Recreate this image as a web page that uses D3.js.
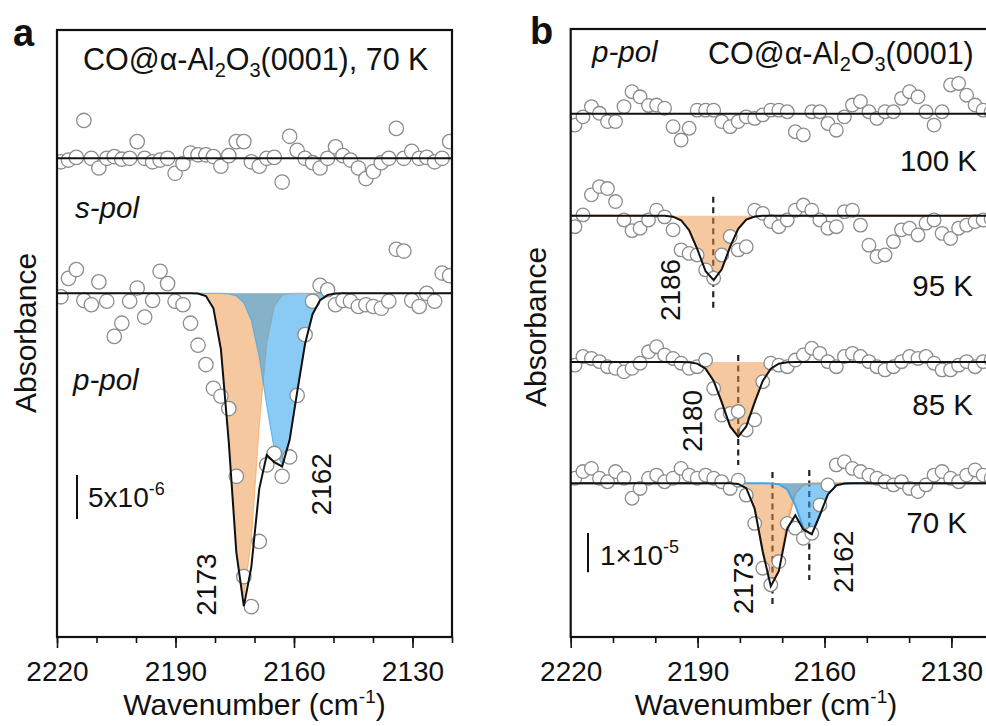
<!DOCTYPE html>
<html>
<head>
<meta charset="utf-8">
<script src="https://cdn.jsdelivr.net/npm/d3@7"></script>
<style>
body { margin: 0; background: #fff; }
svg { display: block; font-family: 'Liberation Sans', Arial, Helvetica, sans-serif; }
</style>
</head>
<body>
<svg id="fig" width="986" height="726"></svg>
<script>
// wavenumber grid of the measured points (cm-1)
var wavenumbers = [2219.0, 2217.1, 2215.1, 2213.2, 2211.3, 2209.4, 2207.4, 2205.5, 2203.6, 2201.6,
	2199.7, 2197.8, 2195.8, 2193.9, 2192.0, 2190.1, 2188.1, 2186.2, 2184.3, 2182.3,
	2180.4, 2178.5, 2176.5, 2174.6, 2172.7, 2170.8, 2168.8, 2166.9, 2165.0, 2163.0,
	2161.1, 2159.2, 2157.2, 2155.3, 2153.4, 2151.5, 2149.5, 2147.6, 2145.7, 2143.7,
	2141.8, 2139.9, 2137.9, 2136.0, 2134.1, 2132.2, 2130.2, 2128.3, 2126.4, 2124.4,
	2122.5, 2120.6];

// panel a, 70 K, absorbance in units of 1e-6
var sPol70 = [-0.4, -0.2, 0.1, 4.3, 0.0, -1.1, 0.0, 0.2, -0.1, 0.0,
	1.9, 0.0, -0.4, -0.2, 0.0, -1.7, -0.6, 0.6, 0.4, 0.4,
	0.2, -0.9, 0.3, 1.9, 1.9, -0.4, -0.9, 0.0, 0.1, -2.7,
	2.5, 0.9, 0.0, -0.5, -1.1, 0.0, 1.3, 0.3, -0.2, -1.1,
	-2.3, -1.5, -0.5, 0.0, 3.4, 0.0, 0.8, 0.0, 0.1, -0.4,
	0.0, 1.9];
var pPol70 = [-0.4, 1.7, 2.7, -0.8, -1.3, 1.3, -0.9, -4.9, -3.4, -0.9,
	0.6, -2.7, -0.8, 2.5, 1.1, -0.9, -1.3, -3.4, -5.9, -8.1,
	-10.8, -11.7, -13.1, -20.8, -32.2, -35.6, -28.2, -19.5, -18.2, -20.8,
	-18.6, -11.6, -4.7, -0.9, 0.9, 0.4, -1.3, -0.8, -0.9, -1.5,
	-1.3, -1.5, -1.7, -0.9, 5.0, 4.8, -0.8, -1.5, 0.0, -0.9,
	2.3, 2.0];

// panel b, p-pol, absorbance in units of 1e-6
var temps = ["100 K", "95 K", "85 K", "70 K"];
var pPolT = [
	[-2.9, -0.8, 1.8, 0.1, -2.0, -2.0, 1.8, 5.6, 4.3, 2.1,
	 2.2, 1.4, -3.3, -6.7, -3.7, 0.9, 0.9, 0.9, -2.0, -3.3,
	 -2.0, -0.8, -1.2, -0.3, 0.9, 0.9, 0.5, -4.6, -5.4, 0.5,
	 0.5, -2.5, -4.2, -0.8, 2.2, 3.1, 0.5, -1.2, 0.5, 0.5,
	 3.9, 5.6, 4.3, 0.5, -2.9, 0.5, 7.3, 7.7, 4.7, 2.2,
	 0.9, 0.5],
	[-2.8, 0.2, 5.3, 7.4, 6.9, 3.6, -1.1, -3.8, -3.2, -1.1,
	 1.4, -0.3, -3.6, -8.7, -9.6, -10.0, -13.8, -15.9, -10.0, -5.3,
	 -8.7, -7.9, 1.4, 0.6, -1.5, -2.8, -1.1, 1.4, 2.7, 1.4,
	 -1.1, -3.2, -2.8, 1.0, 1.4, -2.4, -7.5, -10.4, -10.0, -6.6,
	 -3.6, -3.2, -4.9, -1.9, -1.1, -4.5, -5.8, -3.2, -2.4, -1.5,
	 -1.1, -0.8],
	[-0.8, 1.4, 0.9, 0.1, -1.2, -1.6, -2.5, -1.6, -0.3, 2.6,
	 3.9, 1.8, 0.9, -0.3, -1.6, -1.2, 0.5, -6.7, -13.5, -13.1,
	 -12.6, -17.3, -14.7, -5.0, -0.3, -0.8, -1.2, 0.5, 1.8, 3.5,
	 2.2, 0.1, -1.2, 1.4, 2.2, 1.4, 0.1, -1.2, -2.0, -1.2,
	 0.1, 1.4, 0.9, 1.4, -0.3, -2.0, -2.0, -0.8, 0.1, -1.2,
	 0.1, 0.5],
	[1.3, 3.0, 3.8, 1.3, 0.4, 3.0, 1.3, -3.8, -1.3, 1.3,
	 2.1, 0.4, 1.3, 3.8, 2.1, 1.3, 2.1, 1.3, 0.4, -1.3,
	 0.8, -3.0, -10.2, -21.6, -25.8, -19.9, -10.2, -11.4, -14.0, -12.7,
	 -5.5, -0.4, 4.7, 5.5, 3.8, 3.0, 2.1, 1.3, 0.4, -0.4,
	 0.4, -1.3, -2.1, -0.4, 2.1, 3.0, 1.3, 0.4, 2.1, 3.4,
	 2.1, 1.3]
];

// gaussian fit bands: centre (cm-1), depth (1e-6), sigma (cm-1)
var fitA_center = [2172.8, 2163.3], fitA_depth = [34.5, 19.5], fitA_sigma = [3.1, 3.9];
var fitB_center = [[], [2186.3], [2180.4], [2172.3, 2163.6]];
var fitB_depth = [[], [16.4], [19.0], [26.5, 13.3]];
var fitB_sigma = [[], [3.3], [3.5], [2.5, 2.5]];
var bandKind = ["orange", "blue"];
var bandLabelsA = ["2173", "2162"];
var bandLabelsB = [[], ["2186"], ["2180"], ["2173", "2162"]];
var xTicks = [2220, 2190, 2160, 2130];

// ---------- layout ----------
var svg = d3.select("#fig");
var fillCol = { orange: "#ed9141", blue: "#28a0eb" };
var fillOp = { orange: 0.5, blue: 0.55 };
var lineCol = { orange: "#f3a866", blue: "#3aa8ef" };

var xA = d3.scaleLinear().domain([2220, 2120]).range([57, 452]);
var yA = d3.scaleLinear().domain([-39.06, 29.92]).range([637, 30]);
var xB = d3.scaleLinear().domain([2220, 2120]).range([570.7, 993.7]);
var yB = d3.scaleLinear().domain([-39.1, 115.6]).range([637, 29]);
var offA = [15.34, 0];
var offB = [94.05, 68.1, 30.87, 0];

var fitGrid = [2220].concat(wavenumbers, [2120]);

function gauss(w, c, a, s) {
	return -a * Math.exp(-(w - c) * (w - c) / (2 * s * s));
}

var defs = svg.append("defs");
defs.append("clipPath").attr("id", "clipA").append("rect")
	.attr("x", 57).attr("y", 30).attr("width", 395).attr("height", 607);
defs.append("clipPath").attr("id", "clipB").append("rect")
	.attr("x", 570.7).attr("y", 29).attr("width", 423).attr("height", 608);

function drawSpectrum(g, x, y, vals, off, centers, depths, sigmas, r, compW) {
	var fit = fitGrid.map(function(w) {
		var s = off;
		centers.forEach(function(c, k) { s += gauss(w, c, depths[k], sigmas[k]); });
		return s;
	});
	centers.forEach(function(c, k) {
		var kind = bandKind[k];
		var comp = fitGrid.map(function(w) { return off + gauss(w, c, depths[k], sigmas[k]); });
		g.append("path")
			.datum(comp)
			.attr("d", d3.area()
				.x(function(d, i) { return x(fitGrid[i]); })
				.y0(y(off))
				.y1(function(d) { return y(d); }))
			.style("fill", fillCol[kind])
			.style("fill-opacity", fillOp[kind]);
		g.append("path")
			.datum(comp)
			.attr("d", d3.line()
				.x(function(d, i) { return x(fitGrid[i]); })
				.y(function(d) { return y(d); }))
			.style("fill", "none")
			.style("stroke", lineCol[kind])
			.style("stroke-width", compW)
			.style("stroke-opacity", compW > 1.5 ? 1 : 0.7);
	});
	g.selectAll(null)
		.data(vals)
		.enter().append("circle")
		.attr("cx", function(d, i) { return x(wavenumbers[i]); })
		.attr("cy", function(d) { return y(d + off); })
		.attr("r", r)
		.style("fill", "#fff")
		.style("stroke", "#8c8c8c")
		.style("stroke-width", 1.3);
	g.append("path")
		.datum(fit)
		.attr("d", d3.line()
			.x(function(d, i) { return x(fitGrid[i]); })
			.y(function(d) { return y(d); }))
		.style("fill", "none")
		.style("stroke", "#111")
		.style("stroke-width", 2);
}

function drawAxis(x, left, width, labelX) {
	var ax = svg.append("g").attr("transform", "translate(0,637)");
	ax.call(d3.axisBottom(x).tickValues(d3.range(2220, 2119, -10)).tickSize(6).tickFormat(""))
		.call(function(g) { g.select(".domain").remove(); });
	ax.selectAll(".tick line").style("stroke", "#111").style("stroke-width", 1.6);
	var ax2 = svg.append("g").attr("transform", "translate(0,637)");
	ax2.call(d3.axisBottom(x).tickValues(xTicks).tickSize(11).tickPadding(13).tickFormat(d3.format("d")))
		.call(function(g) { g.select(".domain").remove(); });
	ax2.selectAll(".tick line").style("stroke", "#111").style("stroke-width", 1.6);
	ax2.selectAll("text").style("font-size", "28px").style("font-family", null).style("fill", "#111");
	svg.append("rect")
		.attr("x", left).attr("y", left > 500 ? 29 : 30)
		.attr("width", width).attr("height", left > 500 ? 608 : 607)
		.style("fill", "none").style("stroke", "#111").style("stroke-width", 2.2);
	var t = svg.append("text")
		.attr("x", labelX).attr("y", 715)
		.attr("text-anchor", "middle")
		.style("font-size", "30px").style("fill", "#111")
		.text("Wavenumber (cm");
	t.append("tspan").attr("dy", -12).style("font-size", "19px").text("-1");
	t.append("tspan").attr("dy", 12).text(")");
}

function rotLabel(x, y, txt, size) {
	svg.append("text")
		.attr("transform", "translate(" + x + "," + y + ") rotate(-90)")
		.attr("text-anchor", "middle")
		.attr("dy", "0.36em")
		.style("font-size", size + "px").style("fill", "#111")
		.text(txt);
}

function title(x, y, txt, tail) {
	var t = svg.append("text").attr("x", x).attr("y", y)
		.style("font-size", "30.5px").style("fill", "#111")
		.text(txt);
	t.append("tspan").attr("dy", 7).style("font-size", "20px").text("2");
	t.append("tspan").attr("dy", -7).text("O");
	t.append("tspan").attr("dy", 7).style("font-size", "20px").text("3");
	t.append("tspan").attr("dy", -7).text(tail);
}

function italic(x, y, txt) {
	svg.append("text").attr("x", x).attr("y", y)
		.style("font-size", "29.5px").style("font-style", "italic").style("fill", "#111")
		.text(txt);
}

// ---------- panel a ----------
var gA = svg.append("g").attr("clip-path", "url(#clipA)");
drawSpectrum(gA, xA, yA, sPol70, offA[0], [], [], [], 7.2, 1.2);
drawSpectrum(gA, xA, yA, pPol70, offA[1], fitA_center, fitA_depth, fitA_sigma, 7.2, 1.2);
drawAxis(xA, 57, 395, xA(2170));

svg.append("text").attr("x", 13).attr("y", 46)
	.style("font-size", "38px").style("font-weight", "bold").style("fill", "#111").text("a");
title(83, 70, "CO@\u03b1-Al", "(0001), 70 K");
italic(75, 218, "s-pol");
italic(73, 390, "p-pol");
rotLabel(25, 333, "Absorbance", 30);

svg.append("line")
	.attr("x1", 77).attr("x2", 77)
	.attr("y1", yA(-20.65)).attr("y2", yA(-25.65))
	.style("stroke", "#111").style("stroke-width", 2);
var sbA = svg.append("text").attr("x", 88).attr("y", 507)
	.style("font-size", "28px").style("fill", "#111").text("5x10");
sbA.append("tspan").attr("dy", -12).style("font-size", "18px").text("-6");

rotLabel(xA(2182.3), yA(-33.1), bandLabelsA[0], 28);
rotLabel(xA(2153.2), yA(-21.7), bandLabelsA[1], 28);

// ---------- panel b ----------
var gB = svg.append("g").attr("clip-path", "url(#clipB)");
// dashed centre markers: [top, bottom] relative to each trace baseline
var dashExt = [[], [[4.8, -23.5]], [[1.8, -26.2]], [[2.9, -31.5], [3.4, -24.6]]];
temps.forEach(function(tmp, j) {
	fitB_center[j].forEach(function(c, k) {
		gB.append("line")
			.attr("x1", xB(c)).attr("x2", xB(c))
			.attr("y1", yB(offB[j] + dashExt[j][k][0]))
			.attr("y2", yB(offB[j] + dashExt[j][k][1]))
			.style("stroke", "#222").style("stroke-width", 2.2)
			.style("stroke-dasharray", "6,4.5");
	});
});
temps.forEach(function(tmp, j) {
	drawSpectrum(gB, xB, yB, pPolT[j], offB[j], fitB_center[j], fitB_depth[j], fitB_sigma[j], 6.8, 2);
});
drawAxis(xB, 570.7, 423, 766);

svg.append("text").attr("x", 530).attr("y", 44)
	.style("font-size", "38px").style("font-weight", "bold").style("fill", "#111").text("b");
italic(592, 62, "p-pol");
title(708, 64, "CO@\u03b1-Al", "(0001)");
rotLabel(535, 327, "Absorbance", 30);

var tempY = [171, 296, 415, 533];
var tempX = [977, 973, 973, 967];
temps.forEach(function(tmp, j) {
	svg.append("text").attr("x", tempX[j]).attr("y", tempY[j])
		.attr("text-anchor", "end")
		.style("font-size", "29.5px").style("fill", "#111").text(tmp);
});

svg.append("line")
	.attr("x1", 588).attr("x2", 588)
	.attr("y1", yB(-12.65)).attr("y2", yB(-22.65))
	.style("stroke", "#111").style("stroke-width", 2);
var sbB = svg.append("text").attr("x", 600).attr("y", 565)
	.style("font-size", "28px").style("fill", "#111").text("1\u00d710");
sbB.append("tspan").attr("dy", -12).style("font-size", "18px").text("-5");

// rotated band labels: [wavenumber, level relative to baseline]
var labelPosB = [[], [[2196.5, -18.9]], [[2191.3, -15.0]], [[2179.3, -25.4], [2155.6, -20.0]]];
temps.forEach(function(tmp, j) {
	bandLabelsB[j].forEach(function(lab, k) {
		rotLabel(xB(labelPosB[j][k][0]), yB(offB[j] + labelPosB[j][k][1]), lab, 28);
	});
});
</script>
</body>
</html>
